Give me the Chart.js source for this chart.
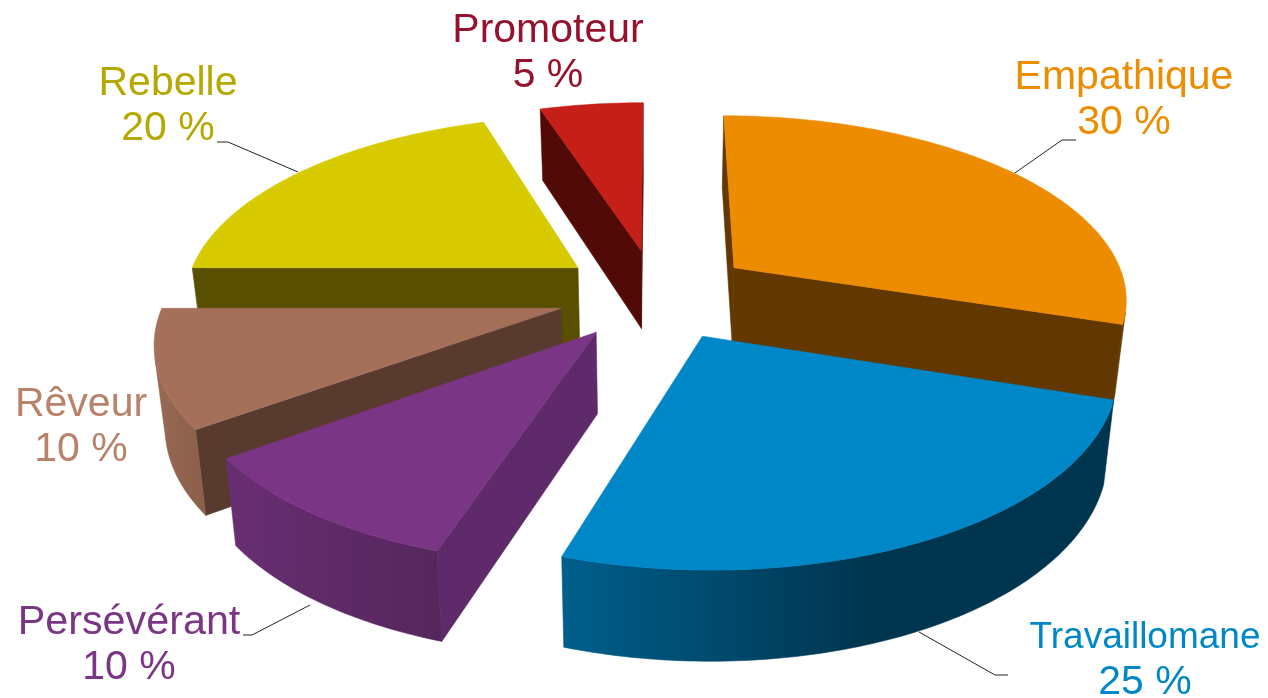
<!DOCTYPE html>
<html>
<head>
<meta charset="utf-8">
<style>html,body{margin:0;padding:0;background:#fff}canvas{display:block}</style>
<script src="https://cdn.jsdelivr.net/npm/chart.js@4/dist/chart.umd.js"></script>
</head>
<body>
<canvas id="c" width="1268" height="698"></canvas>
<script>
const categories = ['Empathique','Travaillomane','Persévérant','Rêveur','Rebelle','Promoteur'];
const values = [30,25,10,10,20,5];
const explodePercent = [25,25,25,25,25,25];
const topColors = ['#EE8C00','#0087C7','#7B3585','#A5705A','#D7CB00','#C51F17'];
const cutColors = ['#623800','#00354F','#5E2A69','#593A2E','#594F00','#520A07'];
const wallDark = ['#623800','#00354F','#55265C','#8A5E4A','#6B6000','#520A07'];
const wallLight = ['#623800','#005F8C','#682E72','#996A54','#6B6000','#520A07'];
const wallFade = [1,0.55,1,1,1,1];
const textColors = ['#EE8C00','#0087C7','#7B3585','#B9826A','#B5A800','#96122C'];
const labelPos = [[1124,78],[1145,638],[129,623],[81,405],[168,84],[548,31]];
const labelSize = [41,37,41.3,41,41,41];
const percentSize = [41,41,41,41,41,41];
const lineGap = 45;
const leaders = [
  [[1076,140],[1062,140],[1012,175]],
  [[1008,675],[995,675],[919,632]],
  [[243,635],[252,635],[310,605]],
  null,
  [[217,142],[228,142],[298,172]],
  null
];
const drawOrder = [5,0,4,3,2,1];

// camera
const CX=656, CY=294, RX=394.5, RY=183, K=0.155, DEPTH=80, DK=0.10, SHRINK=0.978;
function project(X,Y){const w=1-K*Y;return [CX+RX*X/w,CY+RY*Y/w];}
function lower(X,Y){const p=project(X,Y);return [CX+(p[0]-CX)*SHRINK,p[1]+DEPTH/(1-DK*Y)];}
function area(q){let s=0;q.forEach((p,i)=>{const n=q[(i+1)%q.length];s+=p[0]*n[1]-n[0]*p[1];});return s;}
function poly(ctx,q,c){ctx.beginPath();q.forEach((p,i)=>i?ctx.lineTo(p[0],p[1]):ctx.moveTo(p[0],p[1]));ctx.closePath();ctx.fillStyle=c;ctx.strokeStyle=c;ctx.lineWidth=0.6;ctx.fill();ctx.stroke();}

const pie3d = {
  id:'pie3d',
  beforeDatasetDraw(){return false;},
  afterDatasetsDraw(chart){
    const ctx=chart.ctx, arcs=chart.getDatasetMeta(0).data;
    ctx.save();
    ctx.lineJoin='round';
    ctx.strokeStyle='#222';ctx.lineWidth=1;
    leaders.forEach(l=>{if(!l)return;ctx.beginPath();l.forEach((p,i)=>i?ctx.lineTo(p[0],p[1]):ctx.moveTo(p[0],p[1]));ctx.stroke();});
    drawOrder.forEach(i=>{
      const a=arcs[i], s=a.startAngle, e=a.endAngle, m=(s+e)/2, d=a.options.offset/100;
      const ox=Math.cos(m)*d, oy=Math.sin(m)*d;
      const steps=Math.max(24,Math.round((e-s)*60));
      const rim=t=>[ox+Math.cos(t),oy+Math.sin(t)];
      const T=(w)=>project(w[0],w[1]), B=(w)=>lower(w[0],w[1]);
      const apex=[ox,oy], ws=rim(s), we=rim(e);
      const qs=[T(apex),T(ws),B(ws),B(apex)];
      const qe=[T(apex),T(we),B(we),B(apex)];
      if(area(qs)<0) poly(ctx,qs,cutColors[i]);
      if(area(qe)>0) poly(ctx,qe,cutColors[i]);
      const upper=[], bottom=[];
      for(let j=0;j<steps;j++){
        const t0=s+(e-s)*j/steps, t1=s+(e-s)*(j+1)/steps;
        const w0=rim(t0), w1=rim(t1);
        if(area([T(w0),T(w1),B(w1),B(w0)])<0){
          if(!upper.length){upper.push(T(w0));bottom.push(B(w0));}
          upper.push(T(w1));bottom.push(B(w1));
        }
      }
      if(upper.length){
        const q=upper.concat(bottom.reverse());
        const xs=q.map(p=>p[0]);
        const g=ctx.createLinearGradient(Math.min(...xs),0,Math.max(...xs),0);
        g.addColorStop(0,wallLight[i]);g.addColorStop(wallFade[i],wallDark[i]);g.addColorStop(1,wallDark[i]);
        poly(ctx,q,g);
      }
      const top=[T(apex)];
      for(let j=0;j<=steps;j++) top.push(T(rim(s+(e-s)*j/steps)));
      poly(ctx,top,topColors[i]);
    });
    ctx.textAlign='center';ctx.textBaseline='middle';
    categories.forEach((c,i)=>{
      ctx.fillStyle=textColors[i];
      ctx.font=`${labelSize[i]}px "Liberation Sans", Arial, sans-serif`;
      ctx.fillText(c,labelPos[i][0],labelPos[i][1]);
      ctx.font=`${percentSize[i]}px "Liberation Sans", Arial, sans-serif`;
      ctx.fillText(values[i]+' %',labelPos[i][0],labelPos[i][1]+lineGap);
    });
    ctx.restore();
  }
};

new Chart(document.getElementById('c'),{
  type:'pie',
  data:{labels:categories,datasets:[{data:values,backgroundColor:topColors,offset:explodePercent,borderWidth:0}]},
  options:{responsive:false,animation:false,events:[],plugins:{legend:{display:false},tooltip:{enabled:false}}},
  plugins:[pie3d]
});
</script>
</body>
</html>
